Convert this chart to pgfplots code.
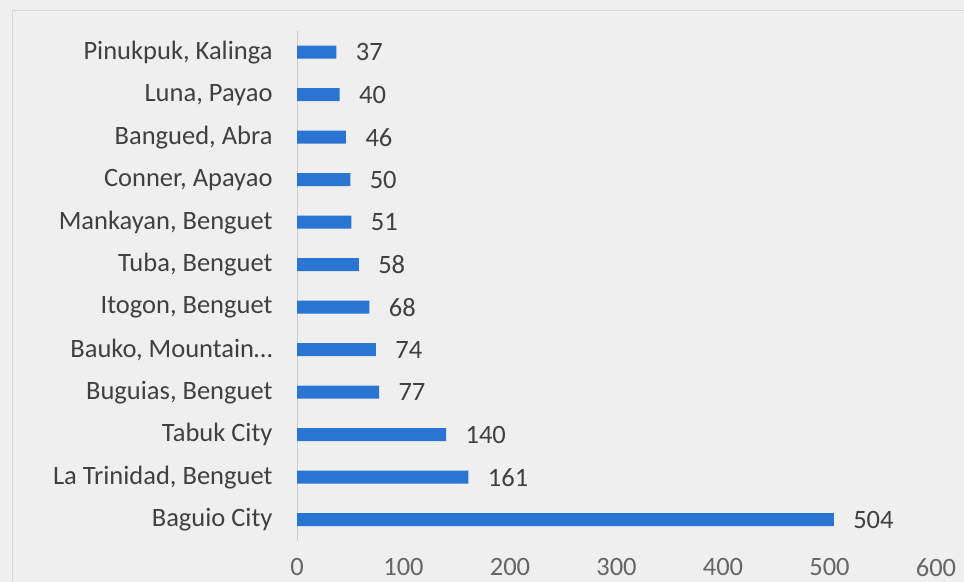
\documentclass[border=0pt]{standalone}
\usepackage{pgfplots}
\pgfplotsset{compat=1.18}
\usepackage{fontspec}
\setmainfont{Carlito}
\definecolor{barblue}{HTML}{2A74D2}
\definecolor{txt}{HTML}{404040}
\definecolor{bg}{HTML}{EFEFEF}
\begin{document}
\begin{tikzpicture}[x=1bp,y=1bp]
\fill[bg] (0,0) rectangle (964,582);
\path[use as bounding box] (0,0) rectangle (964,582);
\draw[black!15, line width=0.8bp] (12,0) -- (12,572) -- (964,572);
\begin{axis}[
  at={(297bp,41bp)}, anchor=south west,
  scale only axis, width=639bp, height=510bp,
  xmin=0, xmax=600, ymin=-0.5, ymax=11.5,
  xtick={0,100,...,600},
  ytick={0,...,11},
  yticklabels={Baguio City, {La Trinidad, Benguet}, Tabuk City, {Buguias, Benguet}, {Bauko, Mountain\ldots}, {Itogon, Benguet}, {Tuba, Benguet}, {Mankayan, Benguet}, {Conner, Apayao}, {Bangued, Abra}, {Luna, Payao}, {Pinukpuk, Kalinga}},
  axis line style={draw=none},
  axis y line*=left,
  separate axis lines,
  x axis line style={draw=none},
  y axis line style={draw=black!20, line width=0.8bp},
  major tick length=0pt,
  tick style={draw=none},
  ticklabel style={font=\fontsize{26.5bp}{29bp}\selectfont, text=txt},
  xticklabel style={text=black!60, yshift=-14bp},
  yticklabel style={xshift=-21bp},
  /pgf/number format/assume math mode=true,
  xbar, bar width=13bp,
  nodes near coords,
  every node near coord/.append style={font=\fontsize{26.5bp}{29bp}\selectfont, text=txt, anchor=west, xshift=16bp},
]
\addplot[fill=barblue, draw=none] coordinates {
(504,0) (161,1) (140,2) (77,3) (74,4) (68,5) (58,6) (51,7) (50,8) (46,9) (40,10) (37,11)
};
\end{axis}
\end{tikzpicture}
\end{document}
